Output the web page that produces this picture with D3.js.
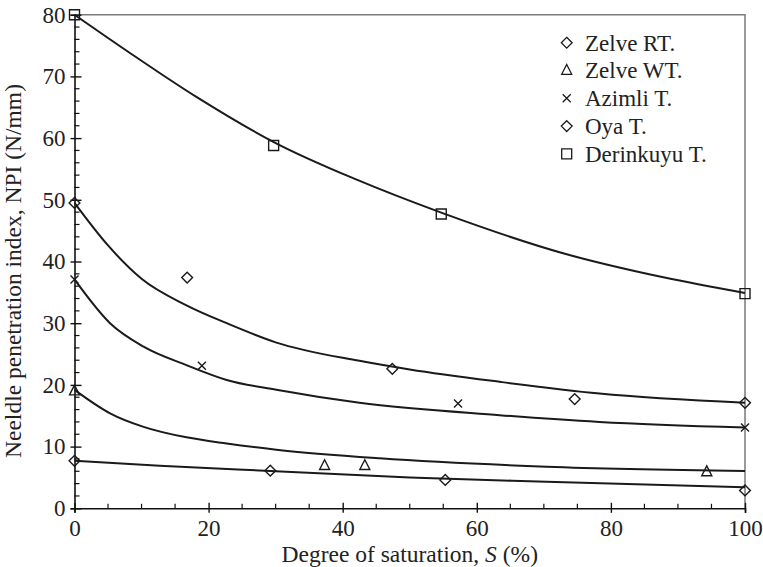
<!DOCTYPE html>
<html>
    <head>
        <title>NPI vs saturation</title>
        <script src="https://d3js.org/d3.v7.min.js"></script>
        <style>
            body{ margin:0; background:#fff; }
            svg, svg text{ font-family:"Liberation Serif","Times New Roman",Times,"DejaVu Serif",serif !important; }
        </style>
    </head>
    <body>
        <svg width="763" height="567"></svg>
    </body>
    <script>
        // series names and marker shapes
        const names   = ["Zelve RT.", "Zelve WT.", "Azimli T.", "Oya T.", "Derinkuyu T."];
        const shapes  = ["diamond", "triangle", "times", "diamond", "square"];

        // measured points (S %, NPI)
        const zelveRT   = [[0,7.7],[29.2,6.1],[55.3,4.6],[100,2.9]];
        const zelveWT   = [[0,19],[37.3,6.9],[43.3,6.9],[94.3,5.9]];
        const azimli    = [[0,37.1],[19,23.1],[57.2,17],[100,13.1]];
        const oya       = [[0,49.5],[16.8,37.4],[47.4,22.6],[74.6,17.7],[100,17.1]];
        const derinkuyu = [[0,80],[29.7,58.8],[54.7,47.7],[100,34.8]];

        // fitted curves
        const fitRT  = [[0,7.7],[12.7,6.9],[29.2,6.05],[50,5.0],[70.4,4.3],[100,3.4]];
        const fitWT  = [[0,19.2],[5.3,15.4],[10.3,13.2],[16.7,11.5],[22.7,10.5],[30.1,9.5],[45.5,8.1],[70.4,6.75],[100,6.05]];
        const fitAz  = [[0,37.1],[5.3,30.0],[10.3,26.2],[16.7,23.2],[22.7,20.8],[30.1,19.2],[42.5,17.1],[63.4,15.1],[78.3,14.0],[100,13.1]];
        const fitOya = [[0,49.5],[5,42.6],[10,37.2],[16.7,32.9],[22.7,30.0],[30,26.9],[42.5,23.9],[50,22.5],[63.4,20.5],[78.3,18.6],[100,17.1]];
        const fitDer = [[0,80],[8,74.0],[18,66.8],[30,59.2],[42,53.3],[55,47.8],[73,41.3],[88,37.4],[100,34.9]];

        const xTicks = [0,20,40,60,80,100];
        const yTicks = [0,10,20,30,40,50,60,70,80];

        const points = [zelveRT, zelveWT, azimli, oya, derinkuyu];
        const fits   = [fitRT, fitWT, fitAz, fitOya, fitDer];

        let svg = d3.select("svg");
        let x = d3.scaleLinear().domain([0,100]).range([74.5,745]);
        let y = d3.scaleLinear().domain([0,80]).range([508.3,14.7]);

        function marker(shape){
            if(shape == "diamond") return "M0,-5.4L5.4,0L0,5.4L-5.4,0Z";
            if(shape == "triangle") return "M0,-6L5,3.8L-5,3.8Z";
            if(shape == "times") return "M-4,-4L4,4M4,-4L-4,4";
            return "M-5,-5h10v10h-10Z";
        }

        // frame top/right (grey)
        svg.append("path")
                .attr("d", `M${x(0)},${y(80)}H${x(100)}V${y(0)}`)
                .attr("fill","none").attr("stroke","#7a7a7a").attr("stroke-width",1.5);

        // minor ticks
        let minorX = d3.range(5,100,5).filter(v => v % 20 != 0);
        let minorY = d3.range(2,80,2).filter(v => v % 10 != 0);
        svg.append("g").selectAll("line").data(minorX).join("line")
                .attr("x1", d => x(d)).attr("x2", d => x(d))
                .attr("y1", y(0)).attr("y2", y(0) - 4.5)
                .attr("stroke","#111").attr("stroke-width",1.2);
        svg.append("g").selectAll("line").data(minorY).join("line")
                .attr("y1", d => y(d)).attr("y2", d => y(d))
                .attr("x1", x(0)).attr("x2", x(0) + 5)
                .attr("stroke","#111").attr("stroke-width",1.2);

        // axes with major ticks crossing the axis line
        let xAxis = svg.append("g").attr("transform", `translate(0,${y(0)})`)
                .call(d3.axisBottom(x).tickValues(xTicks).tickSize(4.5).tickPadding(8));
        xAxis.selectAll(".tick line").attr("y1", -5.5);
        let yAxis = svg.append("g").attr("transform", `translate(${x(0)},0)`)
                .call(d3.axisLeft(y).tickValues(yTicks).tickSize(4).tickPadding(5));
        yAxis.selectAll(".tick line").attr("x1", 7);
        [xAxis, yAxis].forEach(a => {
            a.attr("font-family", null);
            a.select(".domain").attr("stroke","#111").attr("stroke-width",1.6);
            a.selectAll(".tick line").attr("stroke","#111").attr("stroke-width",1.4);
            a.selectAll("text").attr("fill","#222").style("font-size","23px");
        });
        xAxis.selectAll("text").attr("y", 10).attr("dy","0.75em");

        // curves
        let line = d3.line().x(d => x(d[0])).y(d => y(d[1])).curve(d3.curveMonotoneX);
        svg.append("g").selectAll("path").data(fits).join("path")
                .attr("d", line)
                .attr("fill","none").attr("stroke","#1a1a1a").attr("stroke-width",2);

        // markers
        points.forEach(function(pts, i){
            svg.append("g").selectAll("path").data(pts).join("path")
                    .attr("transform", d => `translate(${x(d[0])},${y(d[1])})`)
                    .attr("d", marker(shapes[i]))
                    .attr("fill","none").attr("stroke","#1a1a1a").attr("stroke-width",1.4);
        });

        // legend
        let legend = svg.append("g");
        names.forEach(function(n, i){
            let ly = 42.7 + i*27.8;
            legend.append("path")
                    .attr("transform", `translate(566.7,${ly})`)
                    .attr("d", marker(shapes[i]))
                    .attr("fill","none").attr("stroke","#1a1a1a").attr("stroke-width",1.3);
            legend.append("text")
                    .attr("x", 585).attr("y", ly + 7.8)
                    .style("font-size","23px").attr("fill","#222")
                    .text(n);
        });

        // axis titles
        let xt = svg.append("text")
                .attr("x", x(50)).attr("y", 562)
                .attr("text-anchor","middle")
                .style("font-size","23.5px").attr("fill","#222");
        xt.append("tspan").text("Degree of saturation, ");
        xt.append("tspan").style("font-style","italic").text("S");
        xt.append("tspan").text(" (%)");

        svg.append("text")
                .attr("transform", `translate(21,${271}) rotate(-90)`)
                .attr("text-anchor","middle")
                .style("font-size","23.5px").attr("fill","#222")
                .text("Neeldle penetration index, NPI (N/mm)");
    </script>
</html>
